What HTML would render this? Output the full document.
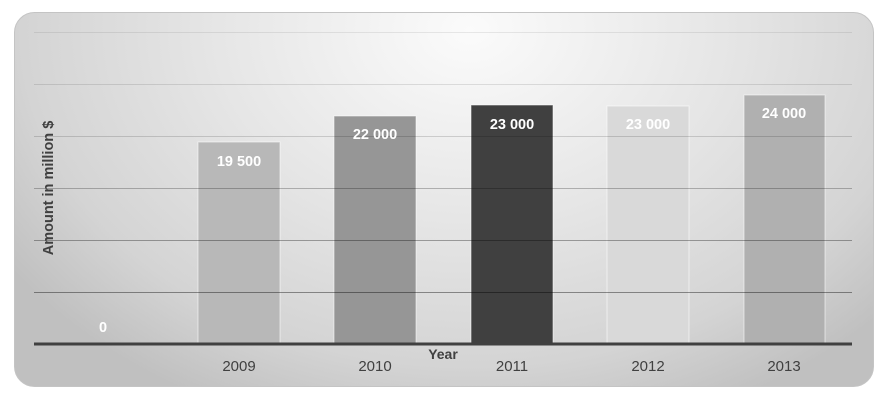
<!DOCTYPE html>
<html><head><meta charset="utf-8"><style>
html,body{margin:0;padding:0;background:#fff;}
svg{display:block;}
text{font-family:"Liberation Sans",sans-serif;}
</style></head><body>
<svg width="888" height="402" viewBox="0 0 888 402" xmlns="http://www.w3.org/2000/svg">
<defs>
<radialGradient id="bg" gradientUnits="userSpaceOnUse" cx="470" cy="30" r="560" gradientTransform="translate(470 30) scale(1 0.75) translate(-470 -30)">
<stop offset="0" stop-color="#fbfbfb"/>
<stop offset="0.45" stop-color="#e6e6e6"/>
<stop offset="0.8" stop-color="#d4d4d4"/>
<stop offset="1" stop-color="#c0c0c0"/>
</radialGradient>
</defs>
<rect x="14.5" y="12.5" width="859" height="374" rx="20" ry="20" fill="url(#bg)" stroke="#c4c4c4" stroke-width="1"/>
<g stroke="rgba(255,255,255,0.55)" stroke-width="1">
<rect x="198" y="142" width="82" height="202" fill="#b8b8b8"/>
<rect x="334" y="116" width="82" height="228" fill="#969696"/>
<rect x="471" y="105" width="82" height="239" fill="#404040"/>
<rect x="607" y="106" width="82" height="238" fill="#d9d9d9"/>
<rect x="744" y="95" width="81" height="249" fill="#b0b0b0"/>
</g>
<g stroke-width="1">
<line x1="34" y1="32.5" x2="852" y2="32.5" stroke="rgba(0,0,0,0.08)"/>
<line x1="34" y1="84.5" x2="852" y2="84.5" stroke="rgba(0,0,0,0.11)"/>
<line x1="34" y1="136.5" x2="852" y2="136.5" stroke="rgba(0,0,0,0.15)"/>
<line x1="34" y1="188.5" x2="852" y2="188.5" stroke="rgba(0,0,0,0.25)"/>
<line x1="34" y1="240.5" x2="852" y2="240.5" stroke="rgba(0,0,0,0.33)"/>
<line x1="34" y1="292.5" x2="852" y2="292.5" stroke="rgba(0,0,0,0.40)"/>
</g>
<line x1="34" y1="344" x2="852" y2="344" stroke="#404040" stroke-width="3"/>
<g fill="#ffffff" font-weight="bold" font-size="14.5" text-anchor="middle">
<text x="103" y="332">0</text>
<text x="239" y="166">19 500</text>
<text x="375" y="139">22 000</text>
<text x="512" y="129">23 000</text>
<text x="648" y="129">23 000</text>
<text x="784" y="118">24 000</text>
</g>
<g fill="#404040" font-size="15" text-anchor="middle">
<text x="239" y="371">2009</text>
<text x="375" y="371">2010</text>
<text x="512" y="371">2011</text>
<text x="648" y="371">2012</text>
<text x="784" y="371">2013</text>
</g>
<text x="443" y="359" fill="#404040" font-size="14" font-weight="bold" text-anchor="middle">Year</text>
<text transform="translate(53 188) rotate(-90)" fill="#404040" font-size="14.5" font-weight="bold" text-anchor="middle">Amount in million $</text>
</svg>
</body></html>
